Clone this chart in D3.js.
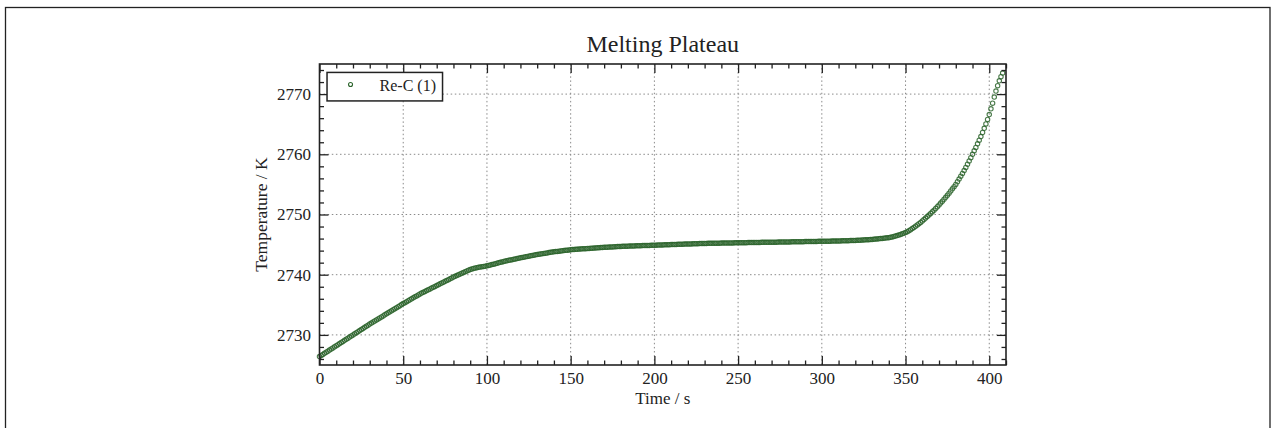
<!DOCTYPE html>
<html>
<head>
<meta charset="utf-8">
<script src="https://cdn.jsdelivr.net/npm/d3@7"></script>
<style>
  html, body { margin: 0; padding: 0; background: #fff; }
  svg { display: block; }
  text { font-family: "Liberation Serif", "Times New Roman", serif; fill: #222; }
</style>
</head>
<body>
<script>
// Melting plateau of a Re-C fixed-point cell: temperature logged once per second.
const title = "Melting Plateau";
const xLabel = "Time / s";
const yLabel = "Temperature / K";
const seriesName = "Re-C (1)";

const xDomain = [0, 410];
const yDomain = [2725, 2775];
const xMajorTicks = [0, 50, 100, 150, 200, 250, 300, 350, 400];
const yMajorTicks = [2730, 2740, 2750, 2760, 2770];
const xMinorStep = 10;
const yMinorStep = 2;

const sampleInterval = 1; // seconds between readings
const temperatures = [
  2726.40, 2726.58, 2726.76, 2726.94, 2727.12, 2727.30, 2727.48, 2727.66, 2727.84, 2728.02,
  2728.20, 2728.38, 2728.56, 2728.74, 2728.92, 2729.10, 2729.28, 2729.46, 2729.64, 2729.82,
  2730.00, 2730.18, 2730.36, 2730.54, 2730.72, 2730.90, 2731.08, 2731.26, 2731.44, 2731.62,
  2731.80, 2731.97, 2732.14, 2732.31, 2732.48, 2732.65, 2732.82, 2732.99, 2733.16, 2733.33,
  2733.50, 2733.67, 2733.84, 2734.01, 2734.18, 2734.35, 2734.52, 2734.69, 2734.86, 2735.03,
  2735.20, 2735.36, 2735.52, 2735.68, 2735.84, 2736.00, 2736.16, 2736.32, 2736.48, 2736.64,
  2736.80, 2736.94, 2737.08, 2737.22, 2737.36, 2737.50, 2737.64, 2737.78, 2737.92, 2738.06,
  2738.20, 2738.34, 2738.48, 2738.62, 2738.76, 2738.90, 2739.04, 2739.18, 2739.32, 2739.46,
  2739.60, 2739.73, 2739.86, 2739.99, 2740.12, 2740.25, 2740.38, 2740.51, 2740.63, 2740.74,
  2740.85, 2740.95, 2741.04, 2741.11, 2741.17, 2741.22, 2741.27, 2741.32, 2741.37, 2741.42,
  2741.47, 2741.54, 2741.61, 2741.68, 2741.75, 2741.83, 2741.90, 2741.98, 2742.05, 2742.13,
  2742.20, 2742.26, 2742.32, 2742.38, 2742.44, 2742.50, 2742.56, 2742.62, 2742.68, 2742.74,
  2742.80, 2742.86, 2742.91, 2742.97, 2743.02, 2743.08, 2743.13, 2743.19, 2743.24, 2743.30,
  2743.35, 2743.40, 2743.44, 2743.49, 2743.53, 2743.58, 2743.62, 2743.67, 2743.71, 2743.76,
  2743.80, 2743.84, 2743.87, 2743.91, 2743.94, 2743.98, 2744.01, 2744.05, 2744.08, 2744.12,
  2744.15, 2744.17, 2744.19, 2744.21, 2744.23, 2744.25, 2744.27, 2744.29, 2744.31, 2744.33,
  2744.35, 2744.37, 2744.39, 2744.41, 2744.43, 2744.45, 2744.47, 2744.49, 2744.51, 2744.53,
  2744.55, 2744.56, 2744.58, 2744.59, 2744.61, 2744.62, 2744.64, 2744.65, 2744.67, 2744.68,
  2744.70, 2744.71, 2744.72, 2744.73, 2744.74, 2744.75, 2744.76, 2744.77, 2744.78, 2744.79,
  2744.80, 2744.81, 2744.82, 2744.83, 2744.84, 2744.85, 2744.86, 2744.87, 2744.88, 2744.89,
  2744.90, 2744.91, 2744.92, 2744.93, 2744.94, 2744.95, 2744.96, 2744.97, 2744.98, 2744.99,
  2745.00, 2745.01, 2745.02, 2745.03, 2745.04, 2745.05, 2745.06, 2745.07, 2745.08, 2745.09,
  2745.10, 2745.11, 2745.12, 2745.13, 2745.14, 2745.15, 2745.16, 2745.17, 2745.18, 2745.19,
  2745.20, 2745.20, 2745.21, 2745.21, 2745.22, 2745.22, 2745.23, 2745.23, 2745.24, 2745.24,
  2745.25, 2745.25, 2745.26, 2745.26, 2745.27, 2745.27, 2745.28, 2745.28, 2745.29, 2745.29,
  2745.30, 2745.30, 2745.31, 2745.31, 2745.32, 2745.32, 2745.33, 2745.33, 2745.34, 2745.34,
  2745.35, 2745.35, 2745.36, 2745.36, 2745.37, 2745.37, 2745.38, 2745.38, 2745.39, 2745.39,
  2745.40, 2745.40, 2745.41, 2745.41, 2745.42, 2745.42, 2745.43, 2745.43, 2745.44, 2745.44,
  2745.45, 2745.45, 2745.46, 2745.46, 2745.47, 2745.47, 2745.48, 2745.48, 2745.49, 2745.49,
  2745.50, 2745.50, 2745.51, 2745.51, 2745.52, 2745.52, 2745.53, 2745.53, 2745.54, 2745.54,
  2745.55, 2745.55, 2745.56, 2745.56, 2745.57, 2745.57, 2745.58, 2745.58, 2745.59, 2745.59,
  2745.60, 2745.61, 2745.62, 2745.63, 2745.64, 2745.65, 2745.66, 2745.67, 2745.68, 2745.69,
  2745.70, 2745.71, 2745.73, 2745.74, 2745.76, 2745.77, 2745.79, 2745.80, 2745.82, 2745.83,
  2745.85, 2745.88, 2745.91, 2745.94, 2745.97, 2746.00, 2746.03, 2746.06, 2746.09, 2746.12,
  2746.15, 2746.21, 2746.28, 2746.35, 2746.42, 2746.50, 2746.59, 2746.69, 2746.79, 2746.89,
  2747.00, 2747.15, 2747.31, 2747.48, 2747.66, 2747.85, 2748.05, 2748.26, 2748.47, 2748.69,
  2748.92, 2749.16, 2749.40, 2749.65, 2749.91, 2750.17, 2750.44, 2750.72, 2751.00, 2751.29,
  2751.58, 2751.89, 2752.21, 2752.53, 2752.86, 2753.20, 2753.55, 2753.90, 2754.26, 2754.63,
  2755.00, 2755.44, 2755.89, 2756.35, 2756.82, 2757.30, 2757.82, 2758.35, 2758.89, 2759.44,
  2760.00, 2760.57, 2761.15, 2761.74, 2762.34, 2762.95, 2763.62, 2764.32, 2765.05, 2765.80,
  2766.60, 2767.55, 2768.50, 2769.50, 2770.50, 2771.40, 2772.20, 2772.90, 2773.50
];

const width = 1272, height = 428;
const margin = { left: 319.5, right: 266, top: 64, bottom: 63 };
const innerW = width - margin.left - margin.right;
const innerH = height - margin.top - margin.bottom;

const markerColor = "#2a632a";

const svg = d3.select("body").append("svg")
  .attr("width", width).attr("height", height);

// page frame
svg.append("rect")
  .attr("x", 5.5).attr("y", 7.5)
  .attr("width", 1264.5).attr("height", 440)
  .attr("fill", "none").attr("stroke", "#222").attr("stroke-width", 1.3);

const x = d3.scaleLinear().domain(xDomain).range([0, innerW]);
const y = d3.scaleLinear().domain(yDomain).range([innerH, 0]);

const g = svg.append("g").attr("transform", `translate(${margin.left},${margin.top})`);

// dotted grid at the major ticks
const grid = g.append("g").attr("class", "grid")
  .attr("stroke", "#8a8a8a").attr("stroke-width", 1).attr("stroke-dasharray", "1.5,2.6");
grid.selectAll("line.gx").data(xMajorTicks.filter(v => v > xDomain[0])).join("line")
  .attr("class", "gx")
  .attr("x1", d => x(d)).attr("x2", d => x(d))
  .attr("y1", 0).attr("y2", innerH);
grid.selectAll("line.gy").data(yMajorTicks).join("line")
  .attr("class", "gy")
  .attr("x1", 0).attr("x2", innerW)
  .attr("y1", d => y(d)).attr("y2", d => y(d));

// readings
const points = temperatures.map((t, i) => ({ time: i * sampleInterval, temp: t }));
g.append("g").selectAll("circle").data(points).join("circle")
  .attr("cx", d => x(d.time))
  .attr("cy", d => y(d.temp))
  .attr("r", 2.2)
  .attr("fill", "none")
  .attr("stroke", markerColor)
  .attr("stroke-opacity", 0.85)
  .attr("stroke-width", 1.1);

// axes with inward ticks on all four sides
const xMinor = d3.range(xDomain[0], xDomain[1] + 0.001, xMinorStep).filter(v => !xMajorTicks.includes(v));
const yMinor = d3.range(2726, yDomain[1] + 0.001, yMinorStep).filter(v => !yMajorTicks.includes(v));

const tickFont = 17;
function styleAxis(sel) {
  sel.select(".domain").remove();
  sel.selectAll(".tick line").attr("stroke", "#222").attr("stroke-width", 1.3);
  sel.selectAll("text").attr("font-size", tickFont)
    .attr("font-family", "'Liberation Serif', serif").attr("fill", "#222");
}

// bottom
g.append("g").attr("transform", `translate(0,${innerH})`)
  .call(d3.axisBottom(x).tickValues(xMajorTicks).tickSizeInner(-9).tickSizeOuter(0).tickPadding(7).tickFormat(d3.format("d")))
  .call(styleAxis);
g.append("g").attr("transform", `translate(0,${innerH})`)
  .call(d3.axisBottom(x).tickValues(xMinor).tickSizeInner(-4.5).tickSizeOuter(0).tickFormat(""))
  .call(styleAxis);
// top
g.append("g")
  .call(d3.axisTop(x).tickValues(xMajorTicks).tickSizeInner(-9).tickSizeOuter(0).tickFormat(""))
  .call(styleAxis);
g.append("g")
  .call(d3.axisTop(x).tickValues(xMinor).tickSizeInner(-4.5).tickSizeOuter(0).tickFormat(""))
  .call(styleAxis);
// left
g.append("g")
  .call(d3.axisLeft(y).tickValues(yMajorTicks).tickSizeInner(-9).tickSizeOuter(0).tickPadding(8.5).tickFormat(d3.format("d")))
  .call(styleAxis);
g.append("g")
  .call(d3.axisLeft(y).tickValues(yMinor).tickSizeInner(-4.5).tickSizeOuter(0).tickFormat(""))
  .call(styleAxis);
// right
g.append("g").attr("transform", `translate(${innerW},0)`)
  .call(d3.axisRight(y).tickValues(yMajorTicks).tickSizeInner(-9).tickSizeOuter(0).tickFormat(""))
  .call(styleAxis);
g.append("g").attr("transform", `translate(${innerW},0)`)
  .call(d3.axisRight(y).tickValues(yMinor).tickSizeInner(-4.5).tickSizeOuter(0).tickFormat(""))
  .call(styleAxis);

// plot frame
g.append("rect")
  .attr("x", 0).attr("y", 0).attr("width", innerW).attr("height", innerH)
  .attr("fill", "none").attr("stroke", "#222").attr("stroke-width", 1.6);

// legend
const legend = g.append("g").attr("transform", `translate(${x(4.5)},${y(2773.6)})`);
legend.append("rect")
  .attr("x", 0).attr("y", 0).attr("width", 115.5).attr("height", 28.5)
  .attr("fill", "#fff").attr("stroke", "#222").attr("stroke-width", 1.5);
legend.append("circle")
  .attr("cx", 23.5).attr("cy", 12).attr("r", 2)
  .attr("fill", "none").attr("stroke", markerColor).attr("stroke-width", 1.1);
legend.append("text")
  .attr("x", 52.5).attr("y", 18.5)
  .attr("font-size", 16)
  .text(seriesName);

// titles
svg.append("text")
  .attr("x", margin.left + innerW / 2).attr("y", 51.5)
  .attr("text-anchor", "middle").attr("font-size", 24)
  .text(title);
svg.append("text")
  .attr("x", margin.left + innerW / 2).attr("y", 404)
  .attr("text-anchor", "middle").attr("font-size", 17)
  .text(xLabel);
svg.append("text")
  .attr("transform", `translate(${266.5},${margin.top + innerH / 2}) rotate(-90)`)
  .attr("text-anchor", "middle").attr("font-size", 17.5)
  .text(yLabel);
</script>
</body>
</html>
